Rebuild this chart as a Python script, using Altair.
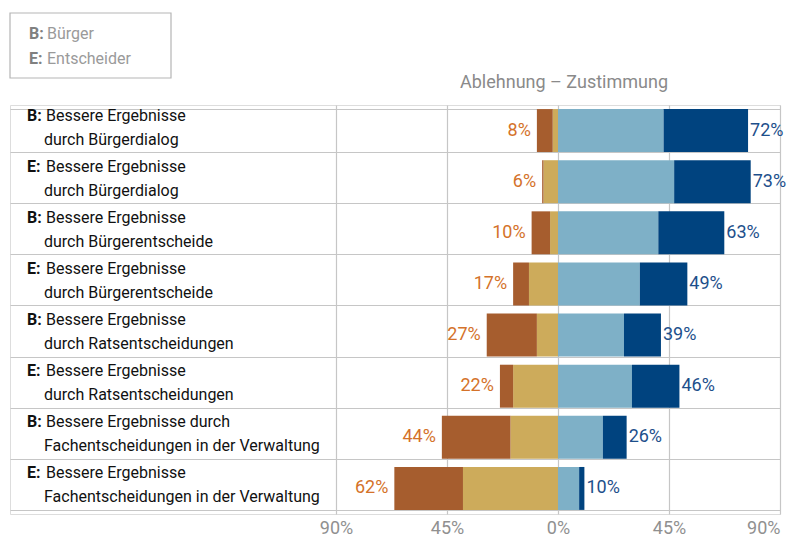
import altair as alt
import pandas as pd

# ---------------- data ----------------
keys = ["r1", "r2", "r3", "r4", "r5", "r6", "r7", "r8"]
prefixes = ["B:", "E:", "B:", "E:", "B:", "E:", "B:", "E:"]
line1 = ["Bessere Ergebnisse", "Bessere Ergebnisse", "Bessere Ergebnisse",
         "Bessere Ergebnisse", "Bessere Ergebnisse", "Bessere Ergebnisse",
         "Bessere Ergebnisse durch", "Bessere Ergebnisse"]
line2 = ["durch Bürgerdialog", "durch Bürgerdialog", "durch Bürgerentscheide",
         "durch Bürgerentscheide", "durch Ratsentscheidungen", "durch Ratsentscheidungen",
         "Fachentscheidungen in der Verwaltung", "Fachentscheidungen in der Verwaltung"]

strong_reject = [6, 0.5, 7, 6, 19, 5, 26, 26]
reject = [2, 5.5, 3, 11, 8, 17, 18, 36]
agree = [40, 44, 38, 31, 25, 28, 17, 8]
strong_agree = [32, 29, 25, 18, 14, 18, 9, 2]

neg_labels = [8, 6, 10, 17, 27, 22, 44, 62]
pos_labels = [72, 73, 63, 49, 39, 46, 26, 10]

tick_values = [-84.1, -42.05, 0, 42.05, 84.1]
tick_labels = ["90%", "45%", "0%", "45%", "90%"]

legend_prefix = ["B:", "E:"]
legend_text = ["Bürger", "Entscheider"]
title_text = "Ablehnung – Zustimmung"

segment_names = ["starke Ablehnung", "Ablehnung", "Zustimmung", "starke Zustimmung"]
segment_colors = ["#a65d2e", "#cdab5b", "#7eb0c7", "#00437f"]

# ---------------- tables ----------------
seg_rows = []
for i, k in enumerate(keys):
    r, sr, a, sa = reject[i], strong_reject[i], agree[i], strong_agree[i]
    seg_rows.append(dict(key=k, seg=segment_names[1], x0=-r, x1=0))
    seg_rows.append(dict(key=k, seg=segment_names[0], x0=-(r + sr), x1=-r))
    seg_rows.append(dict(key=k, seg=segment_names[2], x0=0, x1=a))
    seg_rows.append(dict(key=k, seg=segment_names[3], x0=a, x1=a + sa))
seg_df = pd.DataFrame(seg_rows)

lab_df = pd.DataFrame(dict(
    key=keys,
    prefix=prefixes,
    line1=line1,
    line2=line2,
    xneg=[-(reject[i] + strong_reject[i]) for i in range(len(keys))],
    xpos=[agree[i] + strong_agree[i] for i in range(len(keys))],
    neg=[f"{v}%" for v in neg_labels],
    pos=[f"{v}%" for v in pos_labels],
))

legend_df = pd.DataFrame(dict(prefix=legend_prefix, text=legend_text, ypx=[-71, -46]))
box_df = pd.DataFrame(dict(a=[1]))

# ---------------- scales ----------------
plot_w = 770
plot_h = 409
x_max = tick_values[-1]
x_min = -207.6
x_domain = [x_min, x_max]

label_expr = ""
for v, l in zip(tick_values, tick_labels):
    label_expr += f"abs(datum.value - ({v})) < 0.01 ? '{l}' : "
label_expr += "''"

grid_col = "#c6c6c6"
xscale = alt.Scale(domain=x_domain, nice=False, zero=False)
xaxis = alt.Axis(values=tick_values, labelExpr=label_expr, grid=True, gridColor=grid_col,
                 gridWidth=1.2, domain=False, ticks=False, title=None, labelColor="#909090",
                 labelFontSize=18, labelPadding=5, labelFont="Roboto", labelOverlap=False,
                 labelBound=False)
yscale = alt.Scale(paddingInner=0.16, paddingOuter=0.08)
yaxis = alt.Axis(labels=False, ticks=False, domain=False, title=None, grid=True,
                 tickBand="extent", gridColor=grid_col, gridWidth=1.2)

Y = alt.Y("key:N", sort=keys, scale=yscale, axis=yaxis)

bars = alt.Chart(seg_df).mark_bar().encode(
    x=alt.X("x0:Q", scale=xscale, axis=xaxis),
    x2="x1:Q",
    y=Y,
    color=alt.Color("seg:N", scale=alt.Scale(domain=segment_names, range=segment_colors), legend=None),
)

base = alt.Chart(lab_df)
neg_text = base.mark_text(align="right", baseline="middle", dx=-6, fontSize=18,
                          color="#d4722a", font="Roboto").encode(
    x=alt.X("xneg:Q", scale=xscale), y=Y, text="neg:N")
pos_text = base.mark_text(align="left", baseline="middle", dx=2, fontSize=18,
                          color="#1d4f8b", font="Roboto").encode(
    x=alt.X("xpos:Q", scale=xscale), y=Y, text="pos:N")

pre_text = base.mark_text(align="left", baseline="middle", dy=-15, fontSize=16,
                          fontWeight="bold", color="#111111", font="Roboto").encode(
    x=alt.value(17), y=Y, text="prefix:N")
l1_text = base.mark_text(align="left", baseline="middle", dy=-15, fontSize=16,
                         color="#111111", font="Roboto").encode(
    x=alt.value(36), y=Y, text="line1:N")
l2_text = base.mark_text(align="left", baseline="middle", dy=9, fontSize=16,
                         color="#111111", font="Roboto").encode(
    x=alt.value(34), y=Y, text="line2:N")

box = alt.Chart(box_df).mark_rect(fillOpacity=0, stroke="#b5b5b5", strokeWidth=1.2).encode(
    x=alt.value(0), x2=alt.value(161), y=alt.value(-92), y2=alt.value(-27))

leg_pre = alt.Chart(legend_df).mark_text(align="left", baseline="middle", fontSize=16,
                                         fontWeight="bold", color="#808080", font="Roboto").encode(
    x=alt.value(19), y=alt.Y("ypx:Q", scale=None), text="prefix:N")
leg_txt = alt.Chart(legend_df).mark_text(align="left", baseline="middle", fontSize=16,
                                         color="#9a9a9a", font="Roboto").encode(
    x=alt.value(37), y=alt.Y("ypx:Q", scale=None), text="text:N")

title = alt.Chart(box_df).mark_text(align="center", baseline="middle", fontSize=18,
                                    color="#8a8a8a", font="Roboto").encode(
    x=alt.value(554), y=alt.value(-22), text=alt.value(title_text))

chart = alt.layer(bars, neg_text, pos_text, pre_text, l1_text, l2_text,
                  box, leg_pre, leg_txt, title).properties(
    width=plot_w, height=plot_h,
    padding={"left": 1, "top": 4, "right": 5, "bottom": 5},
).configure_view(stroke=grid_col, strokeWidth=1.2).configure(font="Roboto")

chart.save("out.html", embed_options={"renderer": "svg", "actions": False})
